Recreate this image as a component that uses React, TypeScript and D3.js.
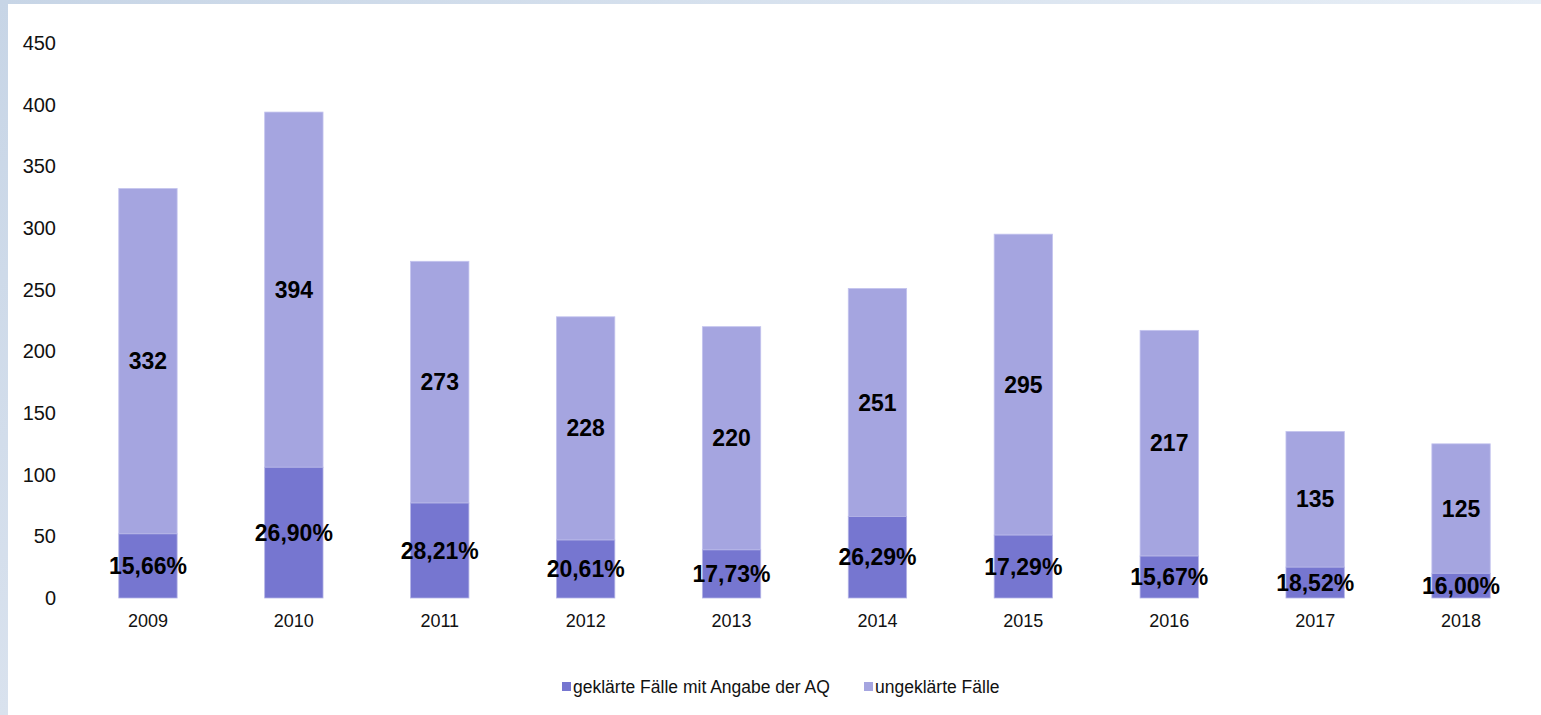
import React, { useEffect, useRef } from "react";
import * as d3 from "d3";

const years = ["2009", "2010", "2011", "2012", "2013", "2014", "2015", "2016", "2017", "2018"];
const totalCases = [332, 394, 273, 228, 220, 251, 295, 217, 135, 125];
const clearedCases = [52, 106, 77, 47, 39, 66, 51, 34, 25, 20];
const clearedShare = ["15,66%", "26,90%", "28,21%", "20,61%", "17,73%", "26,29%", "17,29%", "15,67%", "18,52%", "16,00%"];
const yTicks = [0, 50, 100, 150, 200, 250, 300, 350, 400, 450];
const seriesNames = ["geklärte Fälle mit Angabe der AQ", "ungeklärte Fälle"];

const DARK = "#7676d0";
const LIGHT = "#a5a5e0";
const FONT = "Arial, 'Liberation Sans', sans-serif";

const App = () => {
  const chartRef = useRef<SVGSVGElement>(null);

  useEffect(() => {
    const W = 1541;
    const H = 715;
    const svg = d3.select(chartRef.current).attr("width", W).attr("height", H);
    svg.selectAll("*").remove();

    // frame background
    const defs = svg.append("defs");
    const gTop = defs.append("linearGradient").attr("id", "topGrad").attr("x1", "0").attr("x2", "1");
    gTop.append("stop").attr("offset", "0").attr("stop-color", "#c7d5e6");
    gTop.append("stop").attr("offset", "1").attr("stop-color", "#e7eef6");
    const gLeft = defs.append("linearGradient").attr("id", "leftGrad").attr("x1", "0").attr("x2", "0").attr("y1", "0").attr("y2", "1");
    gLeft.append("stop").attr("offset", "0").attr("stop-color", "#c7d5e6");
    gLeft.append("stop").attr("offset", "1").attr("stop-color", "#d9e2ee");

    svg.append("rect").attr("width", W).attr("height", H).attr("fill", "#fff");
    svg.append("rect").attr("width", W).attr("height", 4).attr("fill", "url(#topGrad)");
    svg.append("rect").attr("width", 8).attr("height", H).attr("fill", "url(#leftGrad)");

    const x = d3.scaleBand().domain(years).range([75, 1534]).paddingInner(0.6).paddingOuter(0.3);
    const y = d3.scaleLinear().domain([0, 450]).range([598, 43]);

    // y axis labels
    svg
      .append("g")
      .selectAll("text")
      .data(yTicks)
      .enter()
      .append("text")
      .attr("x", 56)
      .attr("y", (d) => y(d))
      .attr("dy", "0.35em")
      .attr("text-anchor", "end")
      .attr("font-family", FONT)
      .attr("font-size", 20)
      .attr("fill", "#111")
      .text((d) => d);

    // x axis labels
    svg
      .append("g")
      .selectAll("text")
      .data(years)
      .enter()
      .append("text")
      .attr("x", (d) => x(d)! + x.bandwidth() / 2)
      .attr("y", 621)
      .attr("dy", "0.35em")
      .attr("text-anchor", "middle")
      .attr("font-family", FONT)
      .attr("font-size", 18)
      .attr("fill", "#111")
      .text((d) => d);

    const rows = years.map((yr, i) => ({
      year: yr,
      total: totalCases[i],
      cleared: clearedCases[i],
      share: clearedShare[i],
    }));

    const bars = svg.append("g");
    // unresolved part (top)
    bars
      .selectAll(".light")
      .data(rows)
      .enter()
      .append("rect")
      .attr("x", (d) => x(d.year)!)
      .attr("y", (d) => y(d.total))
      .attr("width", x.bandwidth())
      .attr("height", (d) => y(d.cleared) - y(d.total))
      .attr("fill", LIGHT)
      .attr("stroke", "#c4c4ee")
      .attr("stroke-width", 0.8);
    // cleared part (bottom)
    bars
      .selectAll(".dark")
      .data(rows)
      .enter()
      .append("rect")
      .attr("x", (d) => x(d.year)!)
      .attr("y", (d) => y(d.cleared))
      .attr("width", x.bandwidth())
      .attr("height", (d) => y(0) - y(d.cleared))
      .attr("fill", DARK)
      .attr("stroke", "#b4b4e6")
      .attr("stroke-width", 0.8);

    const labels = svg.append("g").attr("font-family", FONT).attr("font-weight", "bold").attr("font-size", 23).attr("fill", "#000").attr("text-anchor", "middle");
    labels
      .selectAll(".tot")
      .data(rows)
      .enter()
      .append("text")
      .attr("x", (d) => x(d.year)! + x.bandwidth() / 2)
      .attr("y", (d) => (y(d.total) + y(d.cleared)) / 2)
      .attr("dy", "0.35em")
      .text((d) => d.total);
    labels
      .selectAll(".pct")
      .data(rows)
      .enter()
      .append("text")
      .attr("x", (d) => x(d.year)! + x.bandwidth() / 2)
      .attr("y", (d) => (y(0) + y(d.cleared)) / 2)
      .attr("dy", "0.35em")
      .text((d) => d.share);

    // legend
    const legend = svg.append("g").attr("font-family", FONT).attr("font-size", 17.5).attr("fill", "#111");
    const legendX = [562, 864];
    [DARK, LIGHT].forEach((c, i) => {
      legend.append("rect").attr("x", legendX[i]).attr("y", 682).attr("width", 9).attr("height", 9).attr("fill", c);
      legend
        .append("text")
        .attr("x", legendX[i] + 11)
        .attr("y", 692.5)
        .text(seriesNames[i]);
    });
  }, []);

  return (
    <div style={{ position: "absolute", left: 0, top: 0 }}>
      <svg ref={chartRef} style={{ display: "block" }}></svg>
    </div>
  );
};

export default App;
